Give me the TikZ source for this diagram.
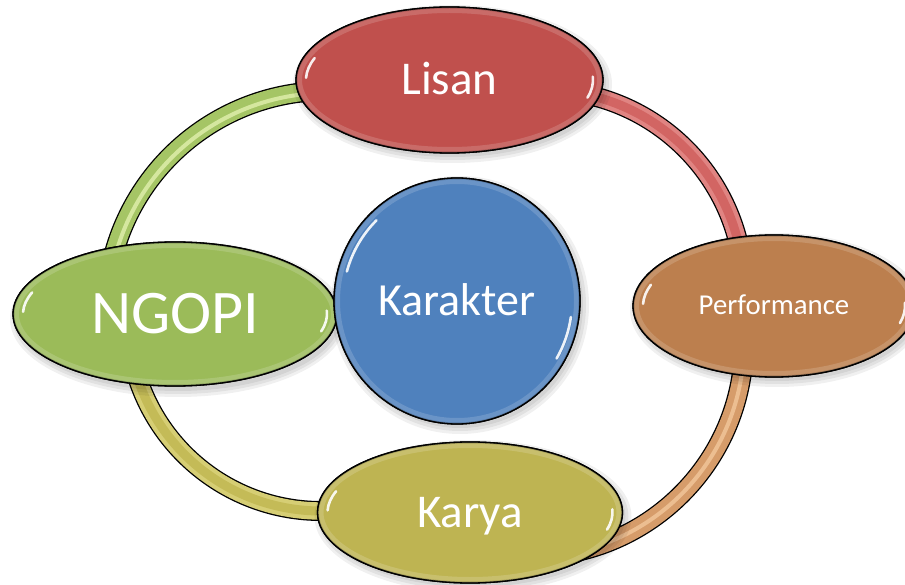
\documentclass[tikz,border=0pt]{standalone}
\usepackage{fontspec}
\setmainfont{Carlito}
\usetikzlibrary{shapes.geometric}
\definecolor{lisanc}{RGB}{192,80,77}
\definecolor{perfc}{RGB}{188,127,78}
\definecolor{ngopic}{RGB}{155,187,89}
\definecolor{karyac}{RGB}{190,180,82}
\definecolor{karakc}{RGB}{79,129,189}
\definecolor{arcg}{RGB}{165,197,101}
\definecolor{arcgl}{RGB}{222,238,170}
\definecolor{arcr}{RGB}{224,132,130}
\definecolor{arcrd}{RGB}{208,96,94}
\definecolor{arco}{RGB}{214,156,106}
\definecolor{arcol}{RGB}{240,196,152}
\definecolor{arcy}{RGB}{214,206,116}
\definecolor{arcyd}{RGB}{194,184,82}
\newcommand\glossell[6]{%
  \begin{scope}
    \clip (#1.center) ellipse [x radius=#2, y radius=#3];
    \draw[#4!55!white, line width=12pt, opacity=0.35] (#1.center) ellipse [x radius=#2, y radius=#3];
    \draw[black, line width=3pt, opacity=0.18] (#1.center) ellipse [x radius=#2, y radius=#3];
  \end{scope}
  \draw[line width=1.3pt] (#1.center) ellipse [x radius=#2, y radius=#3];
  \draw[shine] ([shift={(182:#5 and #6)}]#1.center) arc[start angle=182, end angle=200, x radius=#5, y radius=#6];
  \draw[shine] ([shift={(-3:#5 and #6)}]#1.center) arc[start angle=-3, end angle=16, x radius=#5, y radius=#6];
}
\begin{document}
\begin{tikzpicture}[x=1pt,y=-1pt,
  blob/.style={ellipse, draw=black, line width=1.3pt, inner sep=0pt, text=white, text depth=0pt},
  bandout/.style={draw=black, line width=20pt},
  bandin/.style={line width=17.4pt},
  stripe/.style={opacity=0.85},
  shine/.style={draw=white, line width=2.6pt, line cap=round, opacity=0.9},
  shd/.style={fill=black, opacity=0.06, draw=none}]
\useasboundingbox (0,0) rectangle (905,585);
\fill[white] (0,0) rectangle (905,585);

% arc centres
\coordinate (c1) at (327,312);
\coordinate (c2) at (544,290);
\coordinate (c3) at (530,343);
\coordinate (c4) at (321,318);

% top-left arc (green)
\draw[bandout] ([shift={(-90:221)}]c1) arc[start angle=-90, end angle=-172, radius=221];
\draw[bandin, arcg] ([shift={(-90:221)}]c1) arc[start angle=-90, end angle=-172, radius=221];
\draw[stripe, arcgl, line width=4pt] ([shift={(-90:219)}]c1) arc[start angle=-90, end angle=-172, radius=219];
% top-right arc (red)
\draw[bandout] ([shift={(-84:200)}]c2) arc[start angle=-84, end angle=-5, radius=200];
\draw[bandin, arcr] ([shift={(-84:200)}]c2) arc[start angle=-84, end angle=-5, radius=200];
\draw[stripe, arcrd, line width=9pt] ([shift={(-84:200)}]c2) arc[start angle=-84, end angle=-5, radius=200];
% bottom-right arc (orange)
\draw[bandout] ([shift={(3:214)}]c3) arc[start angle=3, end angle=85, radius=214];
\draw[bandin, arco] ([shift={(3:214)}]c3) arc[start angle=3, end angle=85, radius=214];
\draw[stripe, arcol, line width=4pt] ([shift={(3:214)}]c3) arc[start angle=3, end angle=85, radius=214];
% bottom-left arc (olive)
\draw[bandout] ([shift={(165:193)}]c4) arc[start angle=165, end angle=86, radius=193];
\draw[bandin, arcy] ([shift={(165:193)}]c4) arc[start angle=165, end angle=86, radius=193];
\draw[stripe, arcyd, line width=9pt] ([shift={(165:193)}]c4) arc[start angle=165, end angle=86, radius=193];

% soft shadows
\foreach \e in {0,3,6}{
  \fill[shd] (452.5,84) ellipse [x radius=153.5+\e, y radius=73+\e];
  \fill[shd] (777,310) ellipse [x radius=141+\e, y radius=71+\e];
  \fill[shd] (178,319) ellipse [x radius=162+\e, y radius=72+\e];
  \fill[shd] (473,516.5) ellipse [x radius=152.5+\e, y radius=70.5+\e];
  \fill[shd] (460,305) circle [radius=123+\e];
}

% nodes
\node[blob, fill=lisanc, minimum width=307pt, minimum height=146pt, text height=30pt,
      font=\fontsize{47}{50}\selectfont] (lisan) at (449.5,80) {Lisan};
\glossell{lisan}{153.5}{73}{lisanc}{143.5}{64}

\node[blob, fill=perfc, minimum width=282pt, minimum height=142pt, text height=18pt,
      font=\fontsize{28.8}{31}\selectfont] (perf) at (774,306) {Performance};
\glossell{perf}{141}{71}{perfc}{131}{62}

\node[blob, fill=ngopic, minimum width=324pt, minimum height=144pt, text height=39pt,
      font=\fontsize{62}{66}\selectfont] (ngopi) at (175,314) {NGOPI};
\glossell{ngopi}{162}{72}{ngopic}{152}{63}

\node[blob, fill=karyac, minimum width=305pt, minimum height=141pt, text height=30pt,
      font=\fontsize{47}{50}\selectfont] (karya) at (470,512.5) {Karya};
\glossell{karya}{152.5}{70.5}{karyac}{142.5}{62}

\node[circle, draw=black, line width=1.3pt, inner sep=0pt, text=white, text depth=0pt,
      fill=karakc, minimum size=246pt, text height=29pt,
      font=\fontsize{46}{50}\selectfont] (karakter) at (457,301) {Karakter};
\begin{scope}
  \clip (karakter.center) circle [radius=123];
  \draw[karakc!55!white, line width=12pt, opacity=0.35] (karakter.center) circle [radius=123];
  \draw[black, line width=3pt, opacity=0.18] (karakter.center) circle [radius=123];
\end{scope}
\draw[line width=1.3pt] (karakter.center) circle [radius=123];
\draw[shine] ([shift={(195:114)}]karakter.center) arc[start angle=195, end angle=225, radius=114];
\draw[shine] ([shift={(8:115)}]karakter.center) arc[start angle=8, end angle=30, radius=115];
\end{tikzpicture}
\end{document}
